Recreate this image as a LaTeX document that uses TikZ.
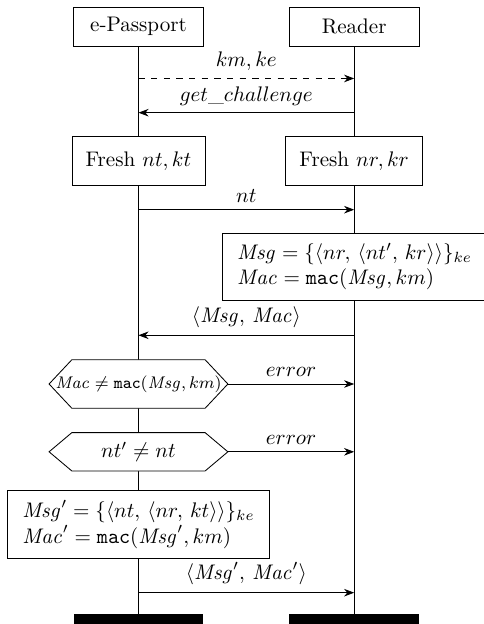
\documentclass[tikz,border=0pt]{standalone}
\usetikzlibrary{arrows.meta,backgrounds}
\tikzset{
  actor/.style={draw,fill=white,minimum width=2.16cm,minimum height=0.645cm},
  fresh/.style={draw,fill=white,inner xsep=6.5pt,minimum height=0.805cm},
  calc/.style={draw,fill=white,align=left,inner xsep=7pt,minimum height=1.12cm},
  check/.style={inner sep=0pt,outer sep=0pt,minimum width=2.98cm},
  stopbar/.style={fill=black,inner sep=0pt,minimum width=2.16cm,minimum height=0.17cm,anchor=north},
  >=Stealth
}
\begin{document}
\begin{tikzpicture}
\useasboundingbox (0,0) rectangle (8.05,-10.4);
%actors
\node[actor] (passport) at (2.308,-0.445) {e-Passport};
\node[actor] (reader) at (5.903,-0.445) {Reader};
\node[fresh] (freshT) at (2.308,-2.68) {Fresh $nt, kt$};
\node[fresh] (freshR) at (5.903,-2.68) {Fresh $nr, kr$};
\node[calc,anchor=west] (msgbox) at (3.70,-4.45)
  {$\mathit{Msg} = \{\langle nr,\, \langle nt',\, kr\rangle\rangle\}_{ke}$\\
   $\mathit{Mac} = \mathtt{mac}(\mathit{Msg}, km)$};
\node[check,minimum height=0.81cm] (chk1) at (2.308,-6.40)
  {\footnotesize $\mathit{Mac} \neq \mathtt{mac}(\mathit{Msg}, km)$};
\node[check,minimum height=0.64cm] (chk2) at (2.308,-7.53) {$nt' \neq nt$};
\node[calc,minimum height=1.13cm] (resp) at (2.308,-8.74)
  {$\mathit{Msg}' = \{\langle nt,\, \langle nr,\, kt\rangle\rangle\}_{ke}$\\
   $\mathit{Mac}' = \mathtt{mac}(\mathit{Msg}', km)$};
\node[stopbar] (endT) at (2.308,-10.23) {};
\node[stopbar] (endR) at (5.903,-10.23) {};
%lifelines and checks
\begin{scope}[on background layer]
  \draw (passport) -- (endT);
  \draw (reader) -- (endR);
  \foreach \c in {chk1,chk2}
    \filldraw[fill=white] (\c.west) -- ([xshift=.38cm]\c.north west)
      -- ([xshift=-.38cm]\c.north east) -- (\c.east)
      -- ([xshift=-.38cm]\c.south east) -- ([xshift=.38cm]\c.south west) -- cycle;
\end{scope}
%messages
\coordinate (r1) at (0,-1.308);
\coordinate (r2) at (0,-1.878);
\coordinate (r3) at (0,-3.495);
\coordinate (r4) at (0,-5.588);
\coordinate (r5) at (0,-9.878);
\draw[->,dashed] (passport |- r1) -- node[above] {$km, ke$} (reader |- r1);
\draw[->] (reader |- r2) -- node[above] {$get\_challenge$} (passport |- r2);
\draw[->] (passport |- r3) -- node[above] {$nt$} (reader |- r3);
\draw[->] (reader |- r4) -- node[above] {$\langle \mathit{Msg},\, \mathit{Mac}\rangle$} (passport |- r4);
\draw[->] (chk1.east) -- node[above] {$error$} (reader |- chk1);
\draw[->] (chk2.east) -- node[above] {$error$} (reader |- chk2);
\draw[->] (passport |- r5) -- node[above] {$\langle \mathit{Msg}',\, \mathit{Mac}'\rangle$} (reader |- r5);
\end{tikzpicture}
\end{document}
